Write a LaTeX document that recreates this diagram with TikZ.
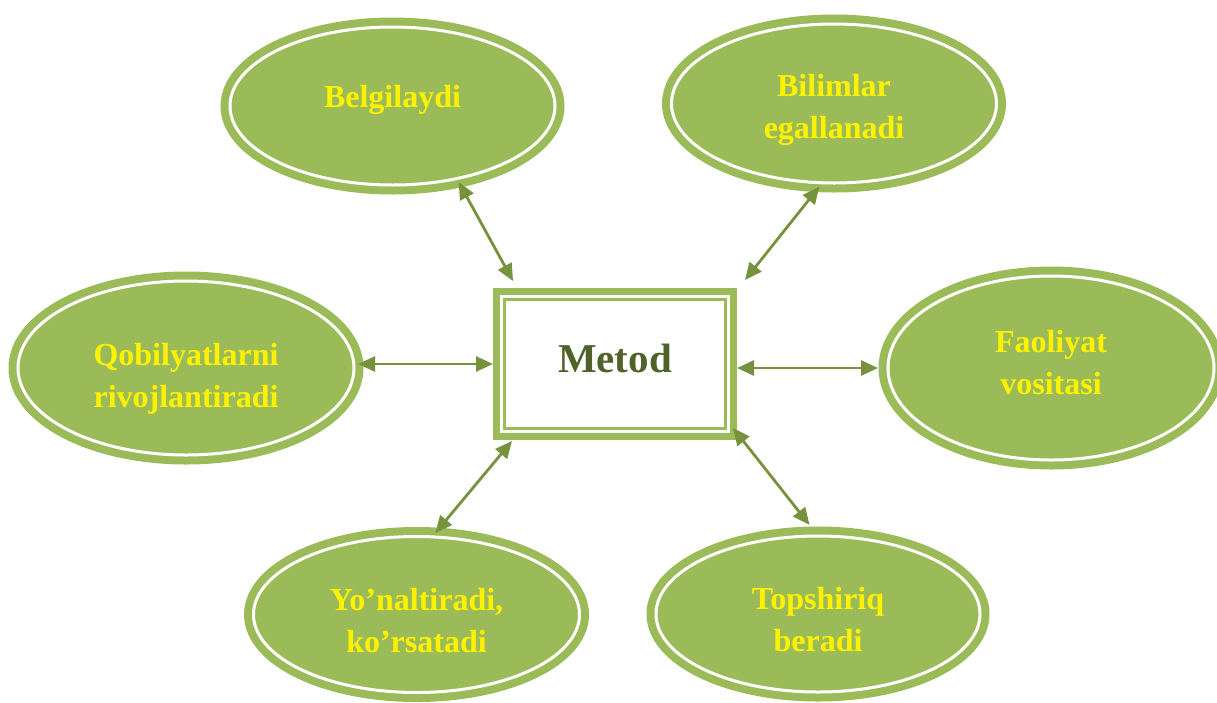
\documentclass[tikz,border=0pt]{standalone}
\usepackage{fontspec}
\setmainfont{Liberation Serif}
\usetikzlibrary{shapes.geometric,arrows.meta}
\definecolor{ovalgreen}{HTML}{9BBB59}
\definecolor{arrowgreen}{HTML}{76923C}
\definecolor{metodgreen}{HTML}{4F6228}

\begin{document}
\begin{tikzpicture}[x=1pt,y=1pt,yscale=-1,xscale=1,
  oval/.style={ellipse, draw=ovalgreen, fill=ovalgreen, double=white, double distance=3pt, line width=8pt, inner sep=0pt},
  ovaltext/.style={inner sep=0pt, align=center, text=yellow, font=\fontsize{32}{42}\selectfont\bfseries},
  link/.style={draw=arrowgreen, line width=2.8pt, >={Triangle[length=17pt,width=15pt]}, <->}]
\useasboundingbox (0,0) rectangle (1217,702);

%Shape: Rectangle
\node [draw=ovalgreen, line width=7pt, minimum width=237pt, minimum height=145pt, inner sep=0pt] (metod) at (615,364) {};
\draw [ovalgreen, line width=2.5pt] ([shift={(11.5,11.5)}]metod.north west) rectangle ([shift={(-11.5,-11.5)}]metod.south east);

%Shape: Ellipse
\node [oval, minimum width=325pt, minimum height=158pt] (belg) at (392.5,106) {};
%Shape: Ellipse
\node [oval, minimum width=325pt, minimum height=159pt] (bil) at (834,103.5) {};
%Shape: Ellipse
\node [oval, minimum width=336pt, minimum height=174pt] (qob) at (186,368) {};
%Shape: Ellipse
\node [oval, minimum width=326pt, minimum height=184pt] (fao) at (1051,368) {};
%Shape: Ellipse
\node [oval, minimum width=326pt, minimum height=156pt] (yon) at (416.5,614.5) {};
%Shape: Ellipse
\node [oval, minimum width=324pt, minimum height=156pt] (topsh) at (818,614) {};

% Text Node
\node [inner sep=0pt, text=metodgreen, font=\fontsize{41}{48}\selectfont\bfseries] (metodtxt) at ([yshift=-6]metod.center) {Metod};
% Text Node
\node [ovaltext] (belgtxt) at ([yshift=-6]belg.center) {Belgilaydi};
% Text Node
\node [ovaltext] (biltxt) at ([yshift=6]bil.center) {Bilimlar\\egallanadi};
% Text Node
\node [ovaltext] (qobtxt) at ([yshift=11]qob.center) {Qobilyatlarni\\rivojlantiradi};
% Text Node
\node [ovaltext] (faotxt) at ([yshift=-5]fao.center) {Faoliyat\\vositasi};
% Text Node
\node [ovaltext] (yontxt) at ([yshift=6]yon.center) {Yo’naltiradi,\\ko’rsatadi};
% Text Node
\node [ovaltext] (topshtxt) at ([yshift=6]topsh.center) {Topshiriq\\beradi};

%Straight Lines
\draw [link] (belg.-49) -- ([shift={(20,-7)}]metod.north west);
%Straight Lines
\draw [link] (bil.260) -- ([shift={(8,-8)}]metod.north east);
%Straight Lines
\draw [link] (qob.east |- metod.west) -- (metod.west);
%Straight Lines
\draw [link, shorten <=6pt] (fao.west) -- (metod.east |- fao.west);
%Straight Lines
\draw [link] (yon.77) -- ([shift={(19,1)}]metod.south west);
%Straight Lines
\draw [link, shorten <=9pt] (topsh.92) -- ([shift={(-4,-12)}]metod.south east);

\end{tikzpicture}
\end{document}
